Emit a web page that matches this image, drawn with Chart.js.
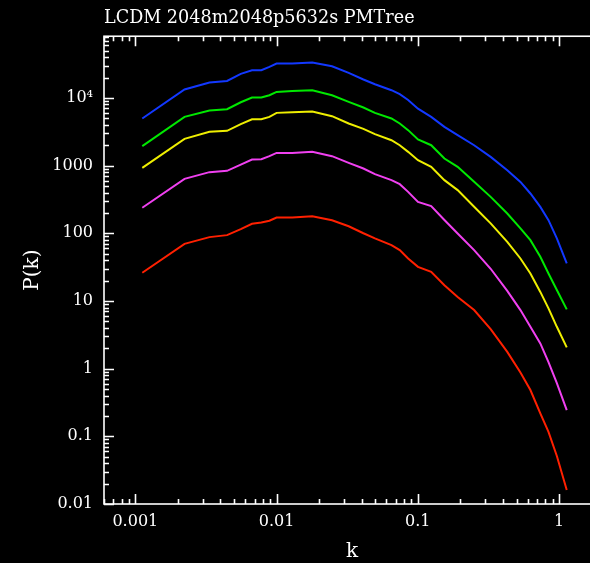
<!DOCTYPE html>
<html>
<head>
<meta charset="utf-8">
<script src="https://cdn.jsdelivr.net/npm/chart.js@4.4.0/dist/chart.umd.min.js"></script>
<style>
  html, body { margin: 0; padding: 0; background: #000; overflow: hidden; }
  canvas { display: block; }
</style>
</head>
<body>
<canvas id="pk" width="600" height="563"></canvas>
<script>
// power spectrum P(k), 5 outputs, k in h/Mpc
const k = [0.00112, 0.00223, 0.00335, 0.00446, 0.00558, 0.0067, 0.0078, 0.0089, 0.0100, 0.0129,
  0.0179, 0.0247, 0.0324, 0.0412, 0.0497, 0.0651, 0.0745, 0.0854, 0.1003, 0.1244,
  0.1543, 0.1915, 0.2505, 0.328, 0.430, 0.533, 0.627, 0.737, 0.842, 0.965, 1.134];

const pkBlue = [4970, 13300, 16900, 17800, 22700, 25600, 25600, 28800, 32200, 32200,
  33300, 29400, 23400, 18700, 15900, 13000, 11350, 9330, 6930, 5240,
  3730, 2810, 2000, 1346, 855, 574, 387, 245, 156, 83.9, 35.9];
const pkGreen = [1936, 5240, 6520, 6810, 8630, 10140, 10140, 10960, 12260, 12690,
  13000, 10960, 8730, 7210, 6010, 4966, 4190, 3340, 2430, 2000,
  1274, 957, 575, 345, 196, 118, 79.2, 44.9, 25.5, 14.5, 7.5];
const pkYellow = [925, 2480, 3150, 3260, 4090, 4840, 4840, 5240, 6010, 6150,
  6300, 5370, 4190, 3480, 2910, 2370, 2000, 1596, 1203, 957,
  610, 434, 246, 140, 74.8, 42.4, 25.5, 13.6, 7.77, 4.15, 2.06];
const pkMagenta = [238, 637, 800, 836, 1032, 1231, 1245, 1378, 1541, 1541,
  1596, 1378, 1097, 906, 747, 609, 532, 409, 291, 252,
  157, 99, 56.4, 29.9, 14.1, 7.33, 4.15, 2.36, 1.25, 0.612, 0.244];
const pkRed = [26.1, 69.8, 87.7, 93.9, 115, 138, 144, 153, 171, 171,
  179, 156, 127, 100, 83.9, 66.8, 56.4, 42.5, 31.9, 27.0,
  17.1, 11.4, 7.33, 3.84, 1.77, 0.875, 0.483, 0.219, 0.116, 0.0512, 0.0161];

const xTicks = [0.001, 0.01, 0.1, 1];
const xTickLabels = ['0.001', '0.01', '0.1', '1'];
const yTicks = [0.01, 0.1, 1, 10, 100, 1000, 10000];
const yTickLabels = ['0.01', '0.1', '1', '10', '100', '1000', '10\u2074'];

const series = [
  { data: pkBlue, color: '#1238ff' },
  { data: pkGreen, color: '#00e800' },
  { data: pkYellow, color: '#eeee00' },
  { data: pkMagenta, color: '#f040f0' },
  { data: pkRed, color: '#ff2000' }
];

const FONT = 'DejaVu Serif';

// inward ticks on all four sides + box, like the pgplot frame
const frame = {
  id: 'frame',
  afterDraw(chart) {
    const { ctx, chartArea: a, scales: { x, y } } = chart;
    ctx.save();
    ctx.strokeStyle = '#fff';
    ctx.lineWidth = 1.6;
    ctx.strokeRect(a.left, a.top, a.right - a.left, a.bottom - a.top);
    ctx.beginPath();
    for (let d = -4; d <= 5; d++) {
      for (let m = 1; m <= 9; m++) {
        const v = m * Math.pow(10, d);
        const len = m === 1 ? 10 : 5;
        if (v >= x.min && v <= x.max) {
          const px = Math.round(x.getPixelForValue(v)) + 0.5;
          ctx.moveTo(px, a.bottom); ctx.lineTo(px, a.bottom - len);
          ctx.moveTo(px, a.top); ctx.lineTo(px, a.top + len);
        }
        if (v >= y.min && v <= y.max) {
          const py = Math.round(y.getPixelForValue(v)) + 0.5;
          ctx.moveTo(a.left, py); ctx.lineTo(a.left + len, py);
          ctx.moveTo(a.right, py); ctx.lineTo(a.right - len, py);
        }
      }
    }
    ctx.stroke();
    ctx.restore();
  }
};

new Chart(document.getElementById('pk'), {
  type: 'line',
  data: {
    datasets: series.map(s => ({
      data: k.map((kv, i) => ({ x: kv, y: s.data[i] })),
      borderColor: s.color,
      borderWidth: 2,
      pointRadius: 0,
      tension: 0,
      fill: false
    }))
  },
  options: {
    responsive: false,
    animation: false,
    layout: { padding: { left: 0, right: 0, top: 0, bottom: 0 } },
    plugins: {
      legend: { display: false },
      tooltip: { enabled: false },
      title: {
        display: true,
        text: 'LCDM 2048m2048p5632s PMTree',
        align: 'start',
        fullSize: false,
        color: '#fff',
        font: { family: FONT, size: 17.6, weight: 'normal', lineHeight: 1.15 },
        padding: { top: 8, bottom: 8 }
      }
    },
    scales: {
      x: {
        type: 'logarithmic',
        position: 'bottom',
        min: 0.00064,
        max: 1.95,
        grid: { display: false, drawTicks: false },
        border: { display: false },
        afterBuildTicks: sc => { sc.ticks = xTicks.map(v => ({ value: v })); },
        afterFit: sc => { sc.height = 59; },
        ticks: {
          color: '#fff',
          padding: 8,
          maxRotation: 0,
          autoSkip: false,
          font: { family: FONT, size: 16 },
          callback: v => xTickLabels[xTicks.indexOf(v)] ?? ''
        },
        title: {
          display: true,
          text: 'k',
          color: '#fff',
          font: { family: FONT, size: 20, lineHeight: 1.1 },
          padding: { top: 0, bottom: 0 }
        }
      },
      y: {
        type: 'logarithmic',
        min: 0.01,
        max: 81500,
        grid: { display: false, drawTicks: false },
        border: { display: false },
        afterBuildTicks: sc => { sc.ticks = yTicks.map(v => ({ value: v })); },
        afterFit: sc => { sc.width = 104; },
        ticks: {
          color: '#fff',
          padding: 11,
          autoSkip: false,
          font: { family: FONT, size: 16 },
          callback: v => yTickLabels[yTicks.indexOf(v)] ?? ''
        },
        title: {
          display: true,
          text: 'P(k)',
          color: '#fff',
          font: { family: FONT, size: 20, lineHeight: 1.2 },
          padding: { top: 21, bottom: 0 }
        }
      }
    }
  },
  plugins: [frame]
});
</script>
</body>
</html>
